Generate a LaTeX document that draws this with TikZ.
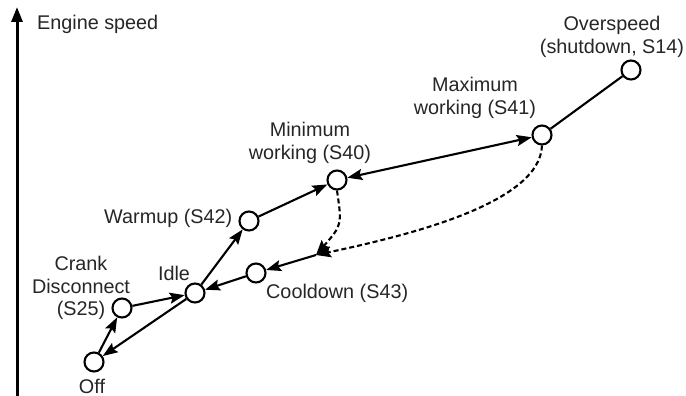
\documentclass[tikz,border=0pt]{standalone}
\usepackage{fontspec}
\setmainfont{Liberation Sans}
\usetikzlibrary{arrows.meta}
\begin{document}
\begin{tikzpicture}[x=1pt,y=-1pt,
  state/.style={circle,draw,line width=2.1pt,minimum size=19pt,inner sep=0pt,fill=white},
  lbl/.style={inner sep=0pt,font=\fontsize{19.8}{22.5}\selectfont,text=black!85},
  tip/.tip={Stealth[length=15pt,width=11pt,inset=2.5pt]},
  tr/.style={line width=2.1pt,-tip},
  trd/.style={tr,dash pattern=on 5pt off 3pt},
  both/.style={line width=2.1pt,tip-tip},
  plain/.style={line width=2.1pt}]
\useasboundingbox (0,0) rectangle (686,396);
% axis
\coordinate (axb) at (17,396);
\coordinate (axt) at (17,7);
\draw[line width=3pt,-{Triangle[length=15pt,width=11pt]}] (axb) -- (axt);
\node[lbl,anchor=base west] (ax) at (37,30) {Engine speed};
% states
\node[state] (off) at (94,362) {};
\node[state] (crank) at (122,308) {};
\node[state] (idle) at (195,293) {};
\node[state] (cool) at (256,273) {};
\node[state] (warm) at (249,221) {};
\node[state] (min) at (337,180) {};
\node[state] (max) at (542,135) {};
\node[state] (over) at (631,70) {};
\coordinate (j) at (316,255);
% labels
\node[lbl,anchor=base] (loff) at (92,393) {Off};
\node[lbl,align=center] (lcrank) at (81,288) {Crank\\Disconnect\\(S25)};
\node[lbl,anchor=base] (lidle) at (174,280) {Idle};
\node[lbl,anchor=base west] (lcool) at (266,298) {Cooldown (S43)};
\node[lbl,anchor=base west] (lwarm) at (104,223) {Warmup (S42)};
\node[lbl,align=center] (lmin) at (310,143) {Minimum\\working (S40)};
\node[lbl,align=center] (lmax) at (475,98) {Maximum\\working (S41)};
\node[lbl,align=center] (lover) at (612,37) {Overspeed\\(shutdown, S14)};
% transitions
\draw[tr] (off) -- (crank);
\draw[tr] (crank) -- (idle);
\draw[tr] (idle) -- (off);
\draw[tr] (idle) -- (warm);
\draw[tr] (warm) -- (min);
\draw[both] (min) -- (max);
\draw[plain] (max) -- (over);
\draw[tr] (cool) -- (idle);
\draw[tr] (j) -- (cool);
\draw[trd] (min.south) .. controls (342,225) .. (j);
\draw[trd] (max.south) .. controls (540,205) and (400,237) .. (j);
\end{tikzpicture}
\end{document}
